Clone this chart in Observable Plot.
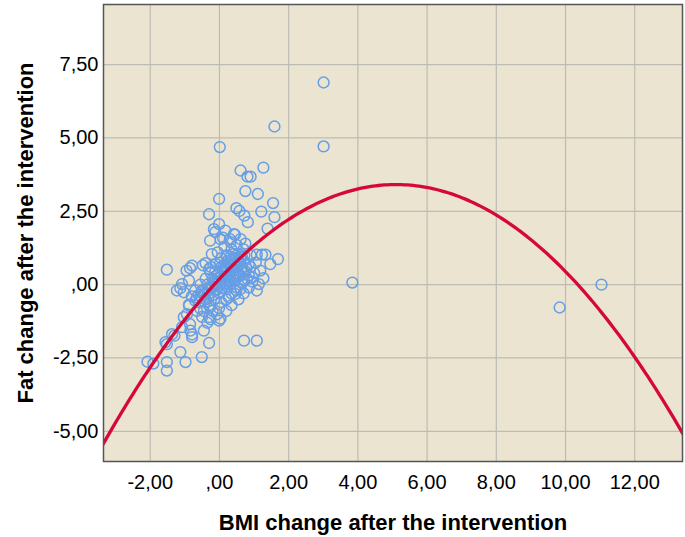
<!DOCTYPE html>
<html>
<head>
<meta charset="utf-8">
<script src="https://cdn.jsdelivr.net/npm/d3@7"></script>
<script src="https://cdn.jsdelivr.net/npm/@observablehq/plot@0.6"></script>
<style>
  html, body { margin: 0; padding: 0; background: #ffffff; }
  #chart svg { font-family: "Liberation Sans", Arial, sans-serif; }
  #chart g[aria-label="x-axis label"] text,
  #chart g[aria-label="y-axis label"] text { font-weight: bold; font-size: 22px; fill: #000; }
  #chart g[aria-label="x-axis tick label"] text,
  #chart g[aria-label="y-axis tick label"] text { fill: #000; }
</style>
</head>
<body>
<div id="chart"></div>
<script>
// BMI change (x) and fat change (y) per participant
const bmiChange = [
  3.01, 1.59, 3.01, 0.01, 0.61, 1.27, 0.81, 0.90, 0.75, 1.11, 1.55, -0.01, -0.30, 0.49, 0.58, 0.72,
  0.82, 1.21, 1.59, 1.39, -0.01, -0.12, 0.17, 0.42, 0.61, -0.27, 0.03, 0.32, -0.22, 1.08, 1.23, 1.33,
  1.69, 1.47, -1.52, -0.85, -0.95, -0.79, -0.40, 1.18, 1.27, 1.14, -1.08, -1.13, -1.03, -0.51, -0.65, -0.88,
  -0.27, -0.01, 0.49, 0.27, 0.61, 0.71, 0.85, -1.03, -0.85, -0.30, -0.01, -0.45, -0.79, -1.30, -1.08, -1.52,
  -1.13, -0.98, -0.51, -0.30, 0.71, 1.08, -2.08, -1.52, -1.52, -1.91, 3.84, 9.83, 11.04, -0.07, -0.26, -0.55,
  -0.88, -1.56, -1.37, -0.79, -0.84, -0.94, -1.23, -0.88, -0.16, -0.48, -0.30, 0.03, 1.08, 0.46,
  -0.40, -0.30, -0.20, -0.10, 0.00, 0.10, 0.20, 0.30, 0.40, 0.50, 0.60, 0.70,
  -0.50, -0.35, -0.20, -0.05, 0.10, 0.25, 0.40, 0.55, 0.70,
  -0.30, -0.15, 0.00, 0.15, 0.30, 0.45, 0.60, 0.75, 0.90,
  -0.60, -0.45, -0.20, 0.05, 0.20, 0.35, 0.50, 0.65, 0.80, 1.00,
  -0.10, 0.05, 0.20, 0.35, 0.50, 0.15, -0.05, 0.30, 0.45, 0.10,
  -0.25, -0.40, -0.55, -0.70, -0.80, -0.65, -0.50, -0.35,
  0.20, 0.35, 0.55, 0.70, 0.85, 0.95, 0.25, 0.05, 0.60, 0.75, 0.90, 0.40, 0.15, -0.10, 0.00, 0.10,
  0.30, 0.50, 0.65, 0.20, -0.15, 0.35,
  -0.45, -0.35, -0.25, -0.15, -0.05, 0.05, 0.15, 0.25, 0.35, 0.45, 0.55, 0.65,
  -0.55, -0.42, -0.32, -0.18, -0.08, 0.08, 0.18, 0.28, 0.38, 0.48, 0.58, 0.68, 0.78,
  -0.25, -0.12, 0.02, 0.12, 0.22, 0.32, 0.42, 0.52, 0.62, 0.72, 0.85, 1.05, 0.95, -0.70, -0.60
];
const fatChange = [
  6.89, 5.39, 4.71, 4.69, 3.89, 3.99, 3.68, 3.68, 3.19, 3.09, 2.78, 2.92, 2.40, 2.61, 2.51, 2.35,
  2.13, 2.49, 2.30, 1.91, 2.06, 1.79, 1.84, 1.72, 1.55, 1.50, 1.55, 1.45, 1.04, 1.02, 1.02, 1.02,
  0.87, 0.70, 0.51, 0.56, 0.48, 0.65, 0.73, 0.48, 0.22, 0.02, 0.02, -0.12, -0.26, -0.26, -0.43, -0.68,
  -0.75, -0.80, -0.20, -0.43, -0.15, 0.15, 0.31, -1.11, -1.35, -1.11, -1.23, -1.57, -1.70, -1.74, -1.45, -2.03,
  -2.30, -2.64, -2.47, -1.99, -1.91, -1.91, -2.63, -2.64, -2.93, -2.69, 0.07, -0.78, 0.00, -1.01, -1.18, -0.82,
  -0.72, -1.96, -1.69, -1.79, -1.57, -1.01, -0.20, 0.14, 1.89, 0.66, 0.53, -1.16, -0.20, -0.32,
  -0.50, -0.30, -0.10, 0.00, 0.10, 0.20, 0.30, 0.40, 0.50, 0.60, 0.70, 0.80,
  -0.20, 0.00, 0.20, 0.35, 0.50, 0.70, 0.90, 1.05, 1.20,
  -0.70, -0.50, -0.30, -0.15, 0.00, 0.15, 0.30, 0.45, 0.60,
  -0.60, -0.90, -0.90, -0.60, -0.50, -0.30, -0.10, 0.05, 0.20, 0.40,
  0.70, 0.90, 1.00, 1.20, 1.35, 1.30, 1.10, 1.55, 1.70, 1.60,
  0.40, 0.20, 0.00, -0.20, -0.40, -0.90, -1.10, -1.30,
  -0.90, -0.70, -0.50, -0.30, -0.10, 0.10, 0.15, 0.60, 0.95, 1.40, 1.00, 0.30, 0.00, -0.20, -0.05, 0.10,
  0.25, 0.40, 0.55, 0.55, 0.15, 0.80,
  -0.35, -0.20, -0.05, 0.05, 0.20, 0.30, 0.40, 0.55, 0.65, 0.75, 0.85, 0.95,
  -0.40, -0.60, -0.45, -0.35, -0.15, -0.10, 0.05, 0.10, 0.20, 0.25, 0.35, 0.45, 0.55,
  0.60, 0.45, 0.75, 0.65, 0.80, 0.95, 1.05, 0.80, 0.90, 1.00, 0.70, 0.75, 0.25, -0.55, -0.35
];

// Quadratic fit line: y = c0 + c1*x + c2*x^2
const fitCoef = [0.195, 1.261, -0.1236];

const xTicks = [-2, 0, 2, 4, 6, 8, 10, 12];
const yTicks = [-5, -2.5, 0, 2.5, 5, 7.5];
const xDomain = [-3.35, 13.38];
const yDomain = [-6.03, 9.55];

const points = bmiChange.map((x, i) => ({x, y: fatChange[i]}));
const step = (xDomain[1] - xDomain[0]) / 200;
const curve = d3.range(xDomain[0] - step, xDomain[1] + 2 * step, step)
  .map(x => ({x, y: fitCoef[0] + fitCoef[1] * x + fitCoef[2] * x * x}));

const fmt = d => d === 0 ? ",00" : d.toFixed(2).replace(".", ",");

const chart = Plot.plot({
  width: 685,
  height: 537,
  marginLeft: 103,
  marginRight: 3,
  marginTop: 4,
  marginBottom: 76,
  style: {fontSize: "20px", fontFamily: "'Liberation Sans', Arial, sans-serif", background: "#ffffff"},
  x: {domain: xDomain},
  y: {domain: yDomain},
  marks: [
    Plot.frame({fill: "#ebe4d0", stroke: null}),
    Plot.gridX(xTicks, {stroke: "#bdbcb3", strokeOpacity: 1, strokeWidth: 1.2}),
    Plot.gridY(yTicks, {stroke: "#bdbcb3", strokeOpacity: 1, strokeWidth: 1.2}),
    Plot.axisX(xTicks, {tickSize: 0, tickPadding: 13, tickFormat: fmt,
      label: "BMI change after the intervention", labelAnchor: "center", labelArrow: "none", labelOffset: 68}),
    Plot.axisY(yTicks, {tickSize: 0, tickPadding: 5, tickFormat: fmt,
      label: "Fat change after the intervention", labelAnchor: "center", labelArrow: "none", labelOffset: 86}),
    Plot.dot(points, {x: "x", y: "y", r: 5.4, stroke: "#659ee6", strokeWidth: 1.5, fill: "none"}),
    Plot.line(curve, {x: "x", y: "y", stroke: "#d6083b", strokeWidth: 3.3, clip: true}),
    Plot.frame({stroke: "#555555", strokeWidth: 1.5})
  ]
});
document.getElementById("chart").appendChild(chart);
</script>
</body>
</html>
